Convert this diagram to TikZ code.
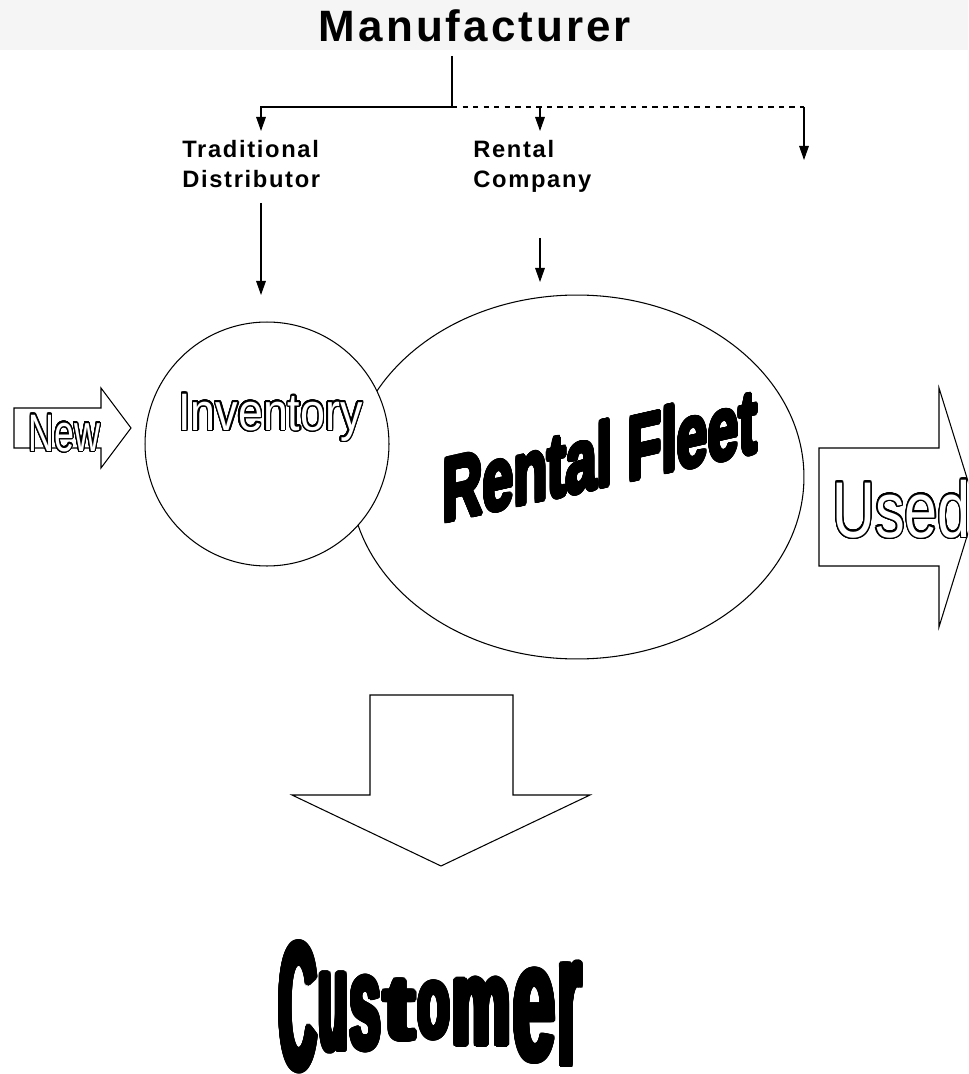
\documentclass[tikz,border=0pt]{standalone}
\usepackage{fontspec}
\setmainfont{Liberation Sans}
\newfontfamily\spacedfont[LetterSpace=7]{Liberation Sans}
\usepackage[copies]{contour}
\contournumber{32}
\usetikzlibrary{shapes, arrows.meta, calc}
\tikzstyle{title} = [font=\spacedfont\bfseries\fontsize{25pt}{28pt}\selectfont, anchor=base, inner sep=7.5pt]
\tikzstyle{channel} = [font=\spacedfont\bfseries\fontsize{13.5pt}{17pt}\selectfont, align=left, anchor=north west, inner sep=0pt]
\tikzstyle{link} = [line width=0.6pt, -{Triangle[length=8pt,width=5.5pt]}]
\tikzstyle{plain} = [line width=0.6pt]
\tikzstyle{pool} = [draw=black, line width=0.6pt, fill=white]
\tikzstyle{blockarrow} = [draw=black, line width=0.6pt, fill=white, line join=miter]
\tikzstyle{hollow} = [anchor=base west, inner sep=0pt]
\tikzstyle{heavy} = [inner sep=0pt, anchor=base]
\newcommand{\hollowtext}[3]{\scalebox{#2}[1]{\contourlength{0.9pt}\contour{black}{\textcolor{white}{\fontsize{#3}{#3}\selectfont #1}}}}
\newcommand{\heavytext}[3]{\scalebox{#2}[1]{\contourlength{1.4pt}\contour{black}{\bfseries\fontsize{#3}{#3}\selectfont #1}}}
% one letter, stretched to width #2 and height #3, centred #4 above the base line
\newcommand{\pinch}[4]{\raisebox{\dimexpr#4-#3/2\relax}{\resizebox{#2}{#3}{\bfseries #1}}\kern1.4pt}

\begin{document}
\begin{tikzpicture}[x=0.02cm, y=-0.02cm]
\useasboundingbox (0,0) rectangle (968,1074);
\clip (0,0) rectangle (968,1074);
\fill [black!4] (0,0) rectangle (968,50);

% top: manufacturer and channels
\node (mfr) [title] at (475,42) {Manufacturer};
\coordinate (split) at (452,107);
\coordinate (rentfork) at (540,107);
\coordinate (otherfork) at (804,107);
\coordinate (tradin) at (261,131);
\coordinate (rentin) at (540,131);
\coordinate (otherin) at (804,160);
\node (trad) [channel] at (182,140) {Traditional\\Distributor};
\node (rent) [channel] at (473,140) {Rental\\Company};

\draw [plain] (mfr.south -| split) -- (split);
\draw [link] (split) -| (tradin);
\draw [plain, dashed] (split) -- (otherfork);
\draw [link] (rentfork) -- (rentin);
\draw [link] (otherfork) -- (otherin);

% inventory and fleet
\node (fleet) [pool, ellipse, minimum width=9.08cm, minimum height=7.28cm] at (577,477) {};
\node (inv) [pool, circle, minimum size=4.88cm] at (267,444) {};

\coordinate (tradout) at (261,203);
\coordinate (tradend) at (261,295);
\coordinate (rentout) at (540,238);
\coordinate (rentend) at (540,282);
\draw [link] (tradout) -- (tradend);
\draw [link] (rentout) -- (rentend);

\node (invtext) [hollow] at (178,430) {\hollowtext{Inventory}{0.85}{30pt}};
\node (fleettext) [heavy, yslant=0.225, transform shape] at (600,487) {\heavytext{Rental Fleet}{0.62}{51pt}};

% new stock in
\draw [blockarrow] (14,408) -- (101,408) -- (101,388) -- (131,428) -- (101,468) -- (101,448) -- (14,448) -- cycle;
\node (newtext) [hollow] at (28,451) {\hollowtext{New}{0.68}{30pt}};

% used stock out
\draw [blockarrow] (819,448) -- (939,448) -- (939,388) -- (976,507) -- (939,627) -- (939,566) -- (819,566) -- cycle;
\node (usedtext) [hollow] at (832,537) {\hollowtext{Used}{0.75}{45pt}};

% to the customer
\draw [blockarrow] (370,695) -- (513,695) -- (513,795) -- (590,795) -- (441,866) -- (292,795) -- (370,795) -- cycle;
\node (cust) [hollow] at (279,1010) {\contourlength{1.6pt}\contour{black}{%
  \pinch{C}{21.2pt}{72pt}{2.3pt}\pinch{u}{16.3pt}{43pt}{-1.1pt}%
  \pinch{s}{17.5pt}{40.6pt}{-1.7pt}\pinch{t}{18.2pt}{33.2pt}{0pt}%
  \pinch{o}{18.2pt}{31pt}{0pt}\pinch{m}{33.1pt}{37.2pt}{-1.1pt}%
  \pinch{e}{24.3pt}{51.4pt}{-2.8pt}\pinch{r}{13.3pt}{58.2pt}{-2.3pt}}};

\end{tikzpicture}
\end{document}
